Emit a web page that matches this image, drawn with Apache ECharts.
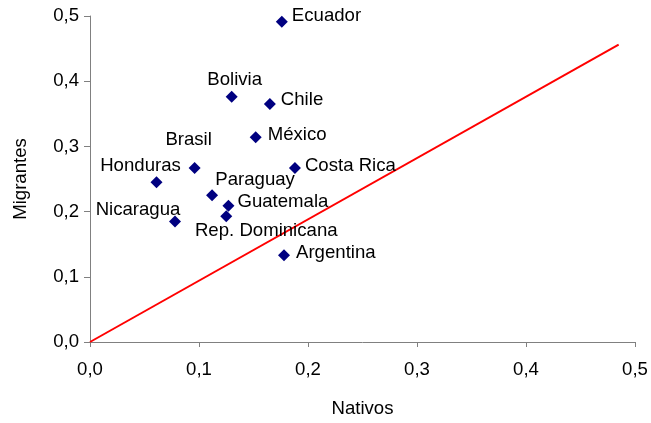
<!DOCTYPE html>
<html>
<head>
<meta charset="utf-8">
<script src="https://cdn.jsdelivr.net/npm/echarts@6/dist/echarts.min.js"></script>
<style>
  html, body { margin: 0; padding: 0; background: #fff; }
  #chart { width: 651px; height: 423px; }
</style>
</head>
<body>
<div id="chart"></div>
<script>
// Country shares: natives (x) versus migrants (y)
const countries = ['Ecuador', 'Bolivia', 'Chile', 'México', 'Brasil', 'Honduras',
  'Costa Rica', 'Paraguay', 'Guatemala', 'Rep. Dominicana', 'Nicaragua', 'Argentina'];
const nativos = [0.176, 0.130, 0.165, 0.152, 0.096, 0.061,
  0.188, 0.112, 0.127, 0.125, 0.078, 0.178];
const migrantes = [0.491, 0.376, 0.365, 0.314, 0.267, 0.245,
  0.267, 0.225, 0.209, 0.193, 0.185, 0.133];

// Reference line end points
const refX = [0, 0.485];
const refY = [0, 0.456];

// Axis ticks
const ticks = [0, 0.1, 0.2, 0.3, 0.4, 0.5];

// Where each country's name sits relative to its marker
const labelPlace = {
  'Ecuador':         { align: 'left',   dx: 10, dy: -6 },
  'Bolivia':         { align: 'center', dx: 3,  dy: -17 },
  'Chile':           { align: 'left',   dx: 11, dy: -4 },
  'México':          { align: 'left',   dx: 12, dy: -2 },
  'Brasil':          { align: 'center', dx: -6, dy: -28 },
  'Honduras':        { align: 'center', dx: -16, dy: -16 },
  'Costa Rica':      { align: 'left',   dx: 10, dy: -2 },
  'Paraguay':        { align: 'center', dx: 43, dy: -15 },
  'Guatemala':       { align: 'left',   dx: 9,  dy: -4 },
  'Rep. Dominicana': { align: 'center', dx: 40, dy: 15 },
  'Nicaragua':       { align: 'center', dx: -37, dy: -12 },
  'Argentina':       { align: 'left',   dx: 12, dy: -2 }
};

const FONT = '"Liberation Sans", Arial, sans-serif';
const FS = 18.6;
const fmt = v => v.toFixed(1).replace('.', ',');

const points = countries.map((name, i) => {
  const p = labelPlace[name];
  return {
    name: name,
    value: [nativos[i], migrantes[i]],
    label: {
      show: true,
      position: 'inside',
      align: p.align,
      verticalAlign: 'middle',
      offset: [p.dx, p.dy],
      formatter: name
    }
  };
});

const axisCommon = {
  type: 'value',
  min: ticks[0],
  max: ticks[ticks.length - 1],
  interval: 0.1,
  splitLine: { show: false },
  axisLine: { show: true, onZero: false, lineStyle: { color: '#808080', width: 1 } },
  axisTick: { show: true, inside: false, length: 5, lineStyle: { color: '#808080' } },
  axisLabel: { color: '#000', fontFamily: FONT, fontSize: FS, formatter: fmt },
  nameLocation: 'middle',
  nameTextStyle: { color: '#000', fontFamily: FONT, fontSize: FS }
};

const chart = echarts.init(document.getElementById('chart'), null, { renderer: 'canvas' });
chart.setOption({
  animation: false,
  backgroundColor: '#ffffff',
  grid: { left: 90, right: 16, top: 16, bottom: 78, containLabel: false },
  xAxis: Object.assign({}, axisCommon, {
    name: 'Nativos',
    nameGap: 57,
    axisLabel: Object.assign({}, axisCommon.axisLabel, { margin: 18 })
  }),
  yAxis: Object.assign({}, axisCommon, {
    name: 'Migrantes',
    nameGap: 60,
    axisTick: Object.assign({}, axisCommon.axisTick, { length: 6 }),
    axisLabel: Object.assign({}, axisCommon.axisLabel, { margin: 11 })
  }),
  series: [
    {
      type: 'line',
      data: refX.map((x, i) => [x, refY[i]]),
      symbol: 'none',
      lineStyle: { color: '#ff0000', width: 2 },
      silent: true,
      z: 1
    },
    {
      type: 'scatter',
      data: points,
      symbol: 'diamond',
      symbolSize: 12,
      itemStyle: { color: '#000080', opacity: 1 },
      label: { color: '#000', fontFamily: FONT, fontSize: FS },
      z: 2
    }
  ]
});
</script>
</body>
</html>
